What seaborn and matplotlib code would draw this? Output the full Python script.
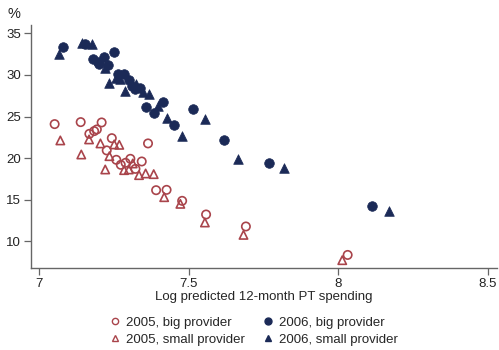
import matplotlib
matplotlib.use("Agg")
import matplotlib.pyplot as plt
import seaborn as sns
import pandas as pd
from matplotlib.lines import Line2D

# 2005, big provider (hollow circles)
x05_big = [7.052, 7.139, 7.168, 7.184, 7.193, 7.209, 7.243, 7.226, 7.258, 7.273, 7.289,
           7.305, 7.322, 7.343, 7.364, 7.391, 7.426, 7.478, 7.558, 7.691, 8.031]
y05_big = [24.09, 24.33, 22.92, 23.25, 23.45, 24.29, 22.40, 20.93, 19.80, 19.20, 19.44,
           19.92, 18.71, 19.60, 21.77, 16.15, 16.19, 14.87, 13.23, 11.79, 8.37]
# 2005, small provider (hollow triangles)
x05_small = [7.071, 7.141, 7.167, 7.205, 7.251, 7.268, 7.235, 7.221, 7.284, 7.300, 7.313,
             7.334, 7.356, 7.383, 7.418, 7.472, 7.554, 7.683, 8.013]
y05_small = [22.13, 20.44, 22.25, 21.77, 21.65, 21.60, 20.24, 18.64, 18.56, 18.64, 19.36,
             17.96, 18.16, 18.08, 15.31, 14.51, 12.27, 10.78, 7.74]
# 2006, big provider (solid circles)
x06_big = [7.080, 7.153, 7.179, 7.197, 7.199, 7.217, 7.230, 7.249, 7.265, 7.284, 7.302,
           7.310, 7.321, 7.337, 7.358, 7.383, 7.413, 7.452, 7.513, 7.618, 7.768, 8.111]
y06_big = [33.38, 33.67, 31.86, 31.57, 31.26, 32.18, 31.18, 32.70, 30.10, 30.10, 29.38,
           28.65, 28.26, 28.38, 26.20, 25.40, 26.77, 23.93, 25.93, 22.16, 19.40, 14.31]
# 2006, small provider (solid triangles)
x06_small = [7.068, 7.145, 7.177, 7.221, 7.235, 7.258, 7.270, 7.287, 7.324, 7.348, 7.368,
             7.396, 7.428, 7.476, 7.554, 7.665, 7.819, 8.170]
y06_small = [32.50, 33.78, 33.67, 30.85, 29.05, 29.58, 29.50, 28.09, 28.90, 27.97, 27.70,
             26.25, 24.77, 22.68, 24.65, 19.92, 18.76, 13.63]

labels = ["2005, big provider", "2005, small provider", "2006, big provider", "2006, small provider"]
x_ticks = [7, 7.5, 8, 8.5]
x_ticklabels = ["7", "7.5", "8", "8.5"]
y_ticks = [10, 15, 20, 25, 30, 35]

RED = "#a9444b"
BLUE = "#1b2a57"
FS = 9.5

sns.set_style("white")
plt.rcParams["font.family"] = ["Liberation Sans", "DejaVu Sans"]

fig = plt.figure(figsize=(4.99, 3.5), dpi=100)
ax = fig.add_axes([30.7 / 499, 1 - 268 / 350, (497 - 30.7) / 499, (268 - 25) / 350])

series = [
    (x05_big, y05_big, "o", RED, True),
    (x05_small, y05_small, "^", RED, True),
    (x06_big, y06_big, "o", BLUE, False),
    (x06_small, y06_small, "^", BLUE, False),
]
for (xs, ys, m, c, hollow), lab in zip(series, labels):
    df = pd.DataFrame({"x": xs, "y": ys})
    if hollow:
        sns.scatterplot(data=df, x="x", y="y", marker=m, s=36, ax=ax,
                        facecolor="none", edgecolor=c, linewidth=1.2, zorder=3)
    else:
        sns.scatterplot(data=df, x="x", y="y", marker=m, s=48, ax=ax,
                        color=c, edgecolor=c, linewidth=0.5, zorder=3)

ax.set_xlim(6.972, 8.53)
ax.set_ylim(6.8, 36.0)
ax.set_xticks(x_ticks)
ax.set_xticklabels(x_ticklabels)
ax.set_yticks(y_ticks)
ax.set_xlabel("Log predicted 12-month PT spending", fontsize=FS, labelpad=1)
ax.set_ylabel("")
for s in ["top", "right"]:
    ax.spines[s].set_visible(False)
for s in ["left", "bottom"]:
    ax.spines[s].set_color("#666666")
    ax.spines[s].set_linewidth(1.0)
ax.tick_params(axis="both", direction="out", length=5, width=0.9, color="#666666",
               labelsize=FS, labelcolor="#222222", left=True, bottom=True, pad=2)
ax.grid(False)

fig.text(14 / 499, 1 - 14 / 350, "%", fontsize=10.5, ha="center", va="center", color="#222222")

handles = [
    Line2D([], [], linestyle="none", marker="o", markersize=4.5, markerfacecolor="none",
           markeredgecolor=RED, markeredgewidth=1.0),
    Line2D([], [], linestyle="none", marker="^", markersize=4.5, markerfacecolor="none",
           markeredgecolor=RED, markeredgewidth=1.0),
    Line2D([], [], linestyle="none", marker="o", markersize=5, color=BLUE),
    Line2D([], [], linestyle="none", marker="^", markersize=5, color=BLUE),
]
fig.legend(handles, labels, ncol=2, loc="center", bbox_to_anchor=(253 / 499, 1 - 331 / 350),
           frameon=False, fontsize=FS, handletextpad=0.3, columnspacing=1.3,
           labelspacing=0.35, handlelength=1.0, borderpad=0.0)

fig.savefig("out.png", dpi=100, facecolor="white")
